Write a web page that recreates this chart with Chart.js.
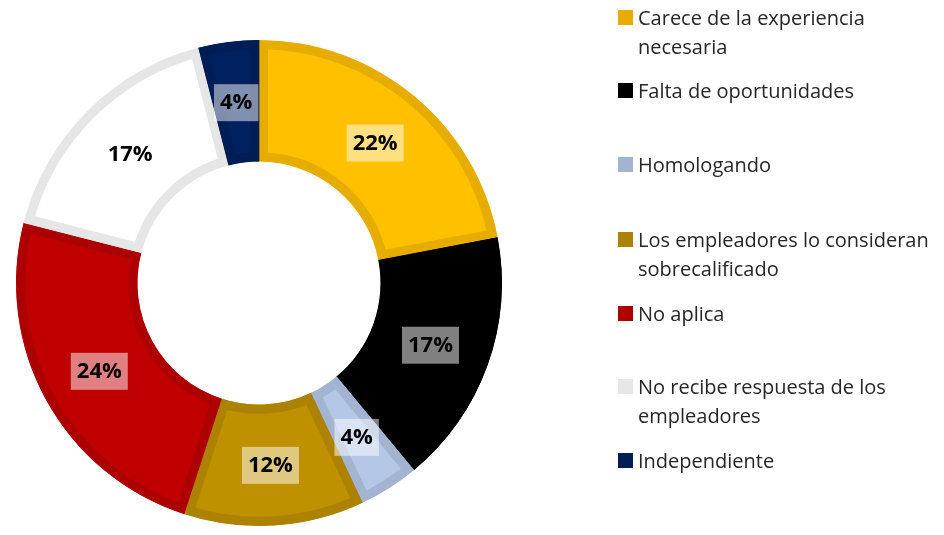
<!DOCTYPE html>
<html>
<head>
<meta charset="utf-8">
<script src="https://cdn.jsdelivr.net/npm/chart.js@4.4.0/dist/chart.umd.min.js"></script>
<style>
    body { margin: 0; background: #fff; }
    #wrap { position: relative; width: 944px; height: 535px; }
    #legend { position: absolute; left: 618px; top: 0; font-family: "Open Sans", sans-serif; font-size: 20px; color: #262626; }
    .item { position: absolute; left: 0; width: 330px; line-height: 29px; white-space: nowrap; }
    .box { position: absolute; left: 0; top: 7px; width: 15px; height: 15px; }
    .txt { position: absolute; left: 20px; top: 0; }
</style>
</head>
<body>
<div id="wrap">
    <canvas id="doughnut" width="944" height="535"></canvas>
    <div id="legend"></div>
</div>
<script>
var labels = [
    ['Carece de la experiencia', 'necesaria'],
    ['Falta de oportunidades'],
    ['Homologando'],
    ['Los empleadores lo consideran', 'sobrecalificado'],
    ['No aplica'],
    ['No recibe respuesta de los', 'empleadores'],
    ['Independiente']
];
var values = [22, 17, 4, 12, 24, 17, 4];
var fillColors = ['#FFC000', '#000000', '#B4C7E7', '#BF9000', '#C00000', '#FFFFFF', '#002060'];
var edgeColors = ['#E6AD00', '#000000', '#A2B4D0', '#AC8200', '#AD0000', '#E7E6E6', '#001D57'];
var legendTops = [3, 76, 150, 225, 299, 372, 446];

// legend on the right
var legend = document.getElementById('legend');
labels.forEach(function (lab, i) {
    var item = document.createElement('div');
    item.className = 'item';
    item.style.top = legendTops[i] + 'px';
    item.innerHTML = '<span class="box" style="background:' + edgeColors[i] + '"></span>' +
        '<span class="txt">' + lab.join('<br>') + '</span>';
    legend.appendChild(item);
});

var pctLabels = {
    id: 'pctLabels',
    afterDatasetsDraw: function (chart) {
        var ctx = chart.ctx;
        var meta = chart.getDatasetMeta(0);
        ctx.save();
        ctx.font = 'bold 22px "Open Sans"';
        ctx.textAlign = 'center';
        ctx.textBaseline = 'middle';
        meta.data.forEach(function (arc, i) {
            var p = arc.tooltipPosition();
            var t = values[i] + '%';
            var w = ctx.measureText(t).width + 12;
            ctx.fillStyle = 'rgba(255,255,255,0.5)';
            ctx.fillRect(p.x - w / 2, p.y - 18, w, 37);
            ctx.fillStyle = '#000';
            ctx.fillText(t, p.x, p.y + 1);
        });
        ctx.restore();
    }
};

var ctx = document.getElementById('doughnut').getContext('2d');
var myChart = new Chart(ctx, {
    type: 'doughnut',
    data: {
        labels: labels.map(function (l) { return l.join(' '); }),
        datasets: [{
            data: values,
            backgroundColor: fillColors,
            borderColor: edgeColors,
            borderWidth: 9,
            borderAlign: 'inner'
        }]
    },
    options: {
        responsive: false,
        animation: false,
        cutout: '50%',
        layout: {
            padding: { left: 16, top: 40, right: 442, bottom: 9 }
        },
        plugins: {
            legend: { display: false },
            tooltip: { enabled: false }
        }
    },
    plugins: [pctLabels]
});
</script>
</body>
</html>
